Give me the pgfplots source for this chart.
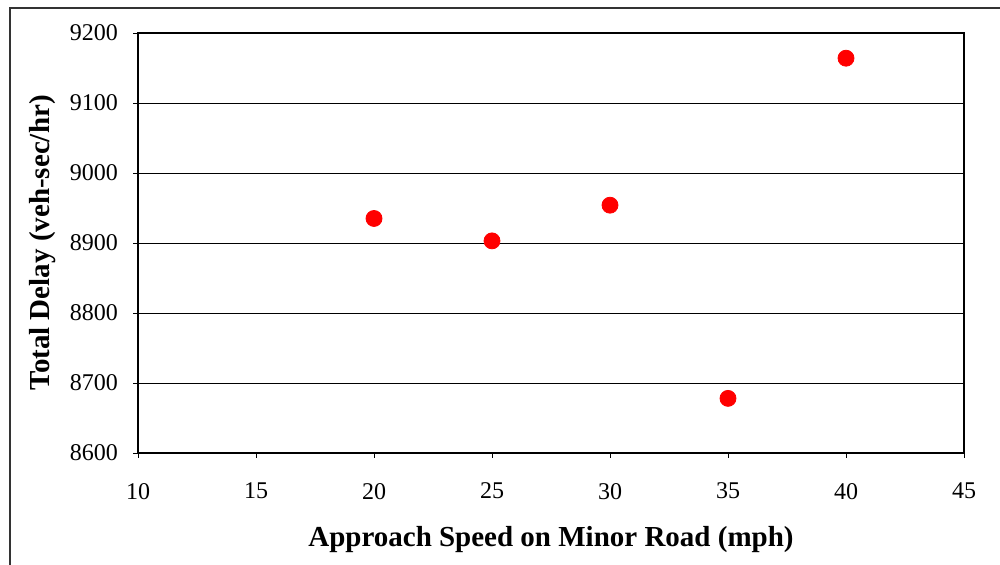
\documentclass[border=0pt]{standalone}
\usepackage{fontspec}
\setmainfont{Liberation Serif}
\usepackage{pgfplots}
\pgfplotsset{compat=1.18}
\begin{document}
\begin{tikzpicture}
\useasboundingbox (0pt,0pt) rectangle (500pt,-282.5pt);
\draw[line width=0.75pt, black!80] (5pt,-282.5pt) -- (5pt,-4pt) -- (500pt,-4pt);
\begin{axis}[
  at={(69pt,-16.5pt)}, anchor=north west,
  scale only axis, width=413pt, height=210pt,
  xmin=10, xmax=45, ymin=8600, ymax=9200,
  xtick={10,15,...,45}, ytick={8600,8700,...,9200},
  axis line style={line width=1pt},
  tick align=outside, tickpos=left, major tick length=2.5pt,
  tick style={black, line width=0.4pt},
  ymajorgrids, grid style={black, line width=0.4pt},
  /pgf/number format/assume math mode=true,
  /pgf/number format/1000 sep={},
  ticklabel style={font=\fontsize{12}{14}\selectfont},
  xticklabel style={yshift=-9pt},
  yticklabel style={xshift=-4pt},
  xlabel={Approach Speed on Minor Road (mph)},
  ylabel={Total Delay (veh-sec/hr)},
  label style={font=\fontsize{14.5}{17}\selectfont\bfseries},
  xlabel style={at={(axis description cs:0.5,-0.207)}, anchor=center},
  ylabel style={at={(axis description cs:-0.116,0.5)}, anchor=center},
]
\addplot[only marks, mark=*, mark size=4pt, color=red, mark options={fill=red, draw=red}]
coordinates {(20,8935) (25,8903) (30,8954) (35,8678) (40,9164)};
\end{axis}
\end{tikzpicture}
\end{document}
